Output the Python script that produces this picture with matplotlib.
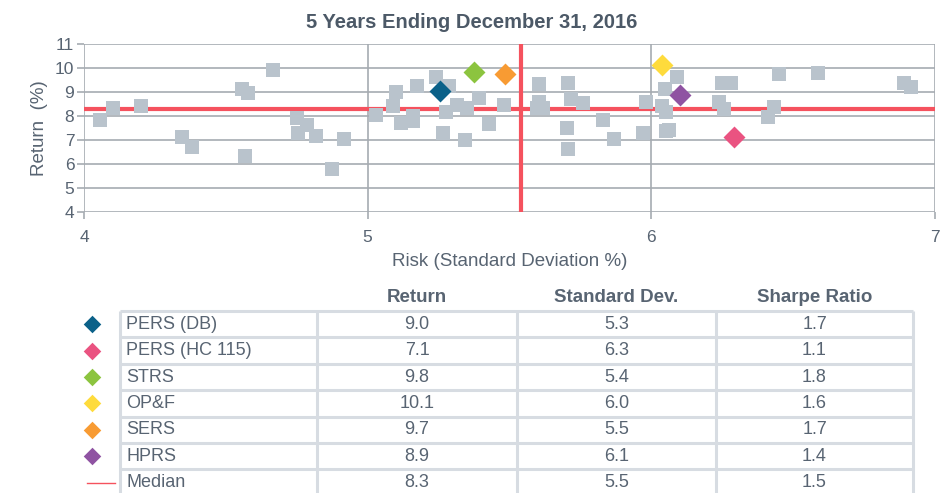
import matplotlib
matplotlib.use('Agg')
import matplotlib.pyplot as plt

plt.rcParams['font.family'] = ['Liberation Sans', 'DejaVu Sans']

# ---------------- data ----------------
peer_risk = [4.058, 4.101, 4.20, 4.345, 4.38, 4.556, 4.577, 4.666, 4.567, 4.75,
             4.786, 4.754, 4.818, 4.917, 4.874, 5.028, 5.088, 5.099, 5.116, 5.161,
             5.161, 5.174, 5.241, 5.288, 5.276, 5.314, 5.349, 5.266, 5.343, 5.392,
             5.427, 5.481, 5.604, 5.604, 5.597, 5.618, 5.707, 5.716, 5.759, 5.703,
             5.707, 5.83, 5.868, 5.982, 5.971, 6.091, 6.047, 6.038, 6.053, 6.053,
             6.063, 6.25, 6.28, 6.24, 6.255, 6.451, 6.589, 6.434, 6.411, 6.892,
             6.914]
peer_return = [7.83, 8.35, 8.42, 7.13, 6.72, 9.13, 8.96, 9.92, 6.33, 7.92,
               7.64, 7.30, 7.16, 7.04, 5.80, 8.06, 8.43, 9.02, 7.71, 7.78,
               8.00, 9.23, 9.62, 9.23, 8.15, 8.47, 8.33, 7.30, 7.00, 8.77,
               7.67, 8.47, 9.34, 8.58, 8.33, 8.33, 9.38, 8.70, 8.56, 7.51,
               6.63, 7.83, 7.04, 8.59, 7.30, 9.64, 9.14, 8.42, 8.17, 7.38,
               7.43, 9.36, 9.36, 8.60, 8.30, 9.76, 9.81, 8.36, 7.97, 9.38,
               9.20]

funds = ["PERS (DB)", "PERS (HC 115)", "STRS", "OP&F", "SERS", "HPRS"]
fund_risk = [5.256, 6.29, 5.375, 6.038, 5.483, 6.102]
fund_return = [9.04, 7.14, 9.84, 10.12, 9.73, 8.89]
fund_sharpe = [1.7, 1.1, 1.8, 1.6, 1.7, 1.4]
fund_colors = ["#0b6189", "#ea5381", "#8cc43f", "#fedb3c", "#f89b33", "#8f53a2"]

median_label = "Median"
median_return = 8.29
median_risk = 5.54
median_sharpe = 1.5

col_headers = ["Return", "Standard Dev.", "Sharpe Ratio"]
x_ticks = [4, 5, 6, 7]
y_ticks = [4, 5, 6, 7, 8, 9, 10, 11]

title = "5 Years Ending December 31, 2016"

# ---------------- style ----------------
W, H = 943, 493
text_col = "#586472"
title_col = "#4c5967"
grid_col = "#a6abb1"
peer_col = "#b9c3cc"
med_col = "#f5525e"
tbl_line = "#d7dce2"

fig = plt.figure(figsize=(W / 100, H / 100), dpi=100)

ax = fig.add_axes([84 / W, 1 - 212 / H, (935 - 84) / W, (212 - 44) / H])
ax.set_xlim(4, 7)
ax.set_ylim(4, 11)
for s in ax.spines.values():
    s.set_visible(False)
ax.set_xticks(x_ticks)
ax.set_yticks(y_ticks)
ax.set_xticklabels([str(v) for v in x_ticks])
ax.set_yticklabels([str(v) for v in y_ticks])
ax.grid(True, color=grid_col, lw=1.2, zorder=0)
ax.tick_params(axis='both', colors=grid_col, labelcolor=text_col,
               labelsize=12.5, length=5, width=1.2)
ax.tick_params(axis='x', pad=8)
ax.tick_params(axis='y', pad=2)

ax.axhline(median_return, color=med_col, lw=3, zorder=2)
ax.axvline(median_risk, color=med_col, lw=3, zorder=2)

ax.scatter(peer_risk, peer_return, marker='s', s=100, color=peer_col,
           linewidths=0, zorder=3)
for x, y, c in zip(fund_risk, fund_return, fund_colors):
    ax.scatter([x], [y], marker='D', s=125, color=c, linewidths=0, zorder=4)

ax.set_xlabel("Risk (Standard Deviation %)", color=text_col, fontsize=13.5, labelpad=6)
ax.set_ylabel("Return  (%)", color=text_col, fontsize=13.5, labelpad=5)
fig.text(472 / W, 1 - 22 / H, title, ha='center', va='center',
         fontsize=14.5, fontweight='bold', color=title_col)

# ---------------- table ----------------
tab = fig.add_axes([0, 0, 1, 1])
tab.set_xlim(0, W)
tab.set_ylim(H, 0)
tab.axis('off')

col_x = [120, 317, 517, 716, 913]
row_top = 311
row_h = 26.4
n_rows = len(funds) + 1
fs = 13

for i, h in enumerate(col_headers):
    tab.text((col_x[i + 1] + col_x[i + 2]) / 2, 297, h, ha='center', va='center',
             fontsize=13.5, fontweight='bold', color=text_col)

for r in range(n_rows + 1):
    y = row_top + r * row_h
    tab.plot([col_x[0], col_x[-1]], [y, y], color=tbl_line, lw=2.2,
             solid_capstyle='butt')
for x in col_x:
    tab.plot([x, x], [row_top, row_top + n_rows * row_h], color=tbl_line, lw=2.2,
             solid_capstyle='butt')

for i, name in enumerate(funds):
    yc = row_top + (i + 0.5) * row_h
    tab.scatter([92], [yc], marker='D', s=80, color=fund_colors[i], linewidths=0)
    tab.text(126, yc, name, ha='left', va='center', fontsize=fs, color=text_col)
    vals = [f"{fund_return[i]:.1f}", f"{fund_risk[i]:.1f}", f"{fund_sharpe[i]:.1f}"]
    for j, v in enumerate(vals):
        tab.text((col_x[j + 1] + col_x[j + 2]) / 2, yc, v, ha='center',
                 va='center', fontsize=fs, color=text_col)

yc = row_top + (len(funds) + 0.5) * row_h
tab.plot([87, 115], [yc, yc], color=med_col, lw=1)
tab.text(126, yc, median_label, ha='left', va='center', fontsize=fs, color=text_col)
vals = [f"{median_return:.1f}", f"{median_risk:.1f}", f"{median_sharpe:.1f}"]
for j, v in enumerate(vals):
    tab.text((col_x[j + 1] + col_x[j + 2]) / 2, yc, v, ha='center', va='center',
             fontsize=fs, color=text_col)

fig.savefig("out.png", dpi=100)
